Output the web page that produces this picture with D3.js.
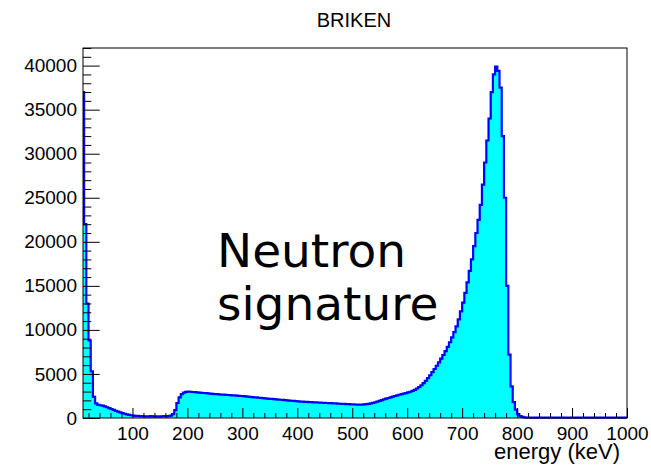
<!DOCTYPE html>
<html>
<head>
<meta charset="utf-8">
<script src="https://cdn.jsdelivr.net/npm/d3@7"></script>
<style>
  body { margin: 0; background: #fff; }
  text { font-family: "Liberation Sans", Arial, sans-serif; }
</style>
</head>
<body>
<script>
// histogram BRIKEN, 250 bins of 4 keV from 0 to 1000 keV, axis shown from 10 keV
var title = "BRIKEN"
var xTitle = "energy (keV)"
var histRange = [0, 1000]
var xRange = [10, 1000]
var yRange = [0, 42000]
var xTicks = [100, 200, 300, 400, 500, 600, 700, 800, 900, 1000]
var yTicks = [0, 5000, 10000, 15000, 20000, 25000, 30000, 35000, 40000]
var note = ["Neutron", "signature"]

var counts = [
  38000, 38000, 37000, 22000, 13000, 8800, 5300, 2400, 1650, 1500,
  1450, 1400, 1320, 1220, 1120, 1020, 930, 820, 720, 640,
  560, 480, 420, 360, 310, 280, 250, 230, 220, 210,
  190, 200, 180, 210, 170, 200, 190, 160, 200, 210,
  190, 220, 260, 450, 900, 1700, 2350, 2700, 2880, 2960,
  3000, 2980, 2950, 2930, 2900, 2880, 2860, 2840, 2820, 2790,
  2760, 2740, 2710, 2700, 2690, 2660, 2650, 2630, 2610, 2600,
  2570, 2560, 2540, 2520, 2500, 2480, 2450, 2430, 2400, 2380,
  2350, 2330, 2300, 2280, 2250, 2230, 2200, 2180, 2160, 2140,
  2110, 2090, 2070, 2050, 2020, 2000, 1980, 1960, 1940, 1910,
  1890, 1870, 1850, 1840, 1820, 1810, 1800, 1780, 1770, 1760,
  1740, 1730, 1720, 1700, 1690, 1680, 1670, 1650, 1640, 1620,
  1610, 1600, 1580, 1570, 1550, 1540, 1530, 1510, 1510, 1520,
  1540, 1570, 1610, 1660, 1720, 1790, 1870, 1950, 2030, 2110,
  2190, 2270, 2350, 2430, 2500, 2570, 2640, 2710, 2770, 2830,
  2900, 2980, 3080, 3200, 3350, 3520, 3720, 3950, 4220, 4520,
  4850, 5200, 5560, 5930, 6320, 6730, 7150, 7600, 8080, 8600,
  9150, 9750, 10400, 11200, 12100, 13100, 14200, 15400, 16700, 18000,
  19500, 21000, 22500, 24200, 26500, 29000, 31500, 34000, 37000, 39000,
  39900, 39400, 37500, 32000, 25000, 15000, 7200, 3600, 1800, 950,
  450, 220, 120, 70, 50, 45, 40, 42, 38, 40,
  44, 40, 36, 41, 39, 43, 40, 38, 42, 40,
  37, 41, 40, 39, 43, 38, 40, 42, 39, 41,
  40, 38, 42, 40, 39, 41, 40, 43, 38, 40,
  41, 39, 40, 42, 38, 40, 41, 39, 40, 42
]

var W = 651, H = 467
var margin = {top: 48, right: 24, bottom: 49, left: 83}

var svg = d3.select('body').append('svg')
    .attr('width', W)
    .attr('height', H)

var x = d3.scaleLinear().domain(xRange).range([margin.left, W - margin.right])
var y = d3.scaleLinear().domain(yRange).range([H - margin.bottom, margin.top])

svg.append('clipPath').attr('id', 'frame-clip')
  .append('rect')
  .attr('x', margin.left)
  .attr('y', margin.top)
  .attr('width', W - margin.left - margin.right + 1)
  .attr('height', H - margin.top - margin.bottom + 2)

var bw = (histRange[1] - histRange[0]) / counts.length
var pts = [{e: histRange[0], c: 0}]
counts.forEach(function (c, i) { pts.push({e: histRange[0] + i * bw, c: c}) })
pts.push({e: histRange[1], c: counts[counts.length - 1]})
pts.push({e: histRange[1], c: 0})

var area = d3.area()
  .curve(d3.curveStepAfter)
  .x(function (d) { return x(d.e) })
  .y0(y(0))
  .y1(function (d) { return y(d.c) })

var line = d3.line()
  .curve(d3.curveStepAfter)
  .x(function (d) { return x(d.e) })
  .y(function (d) { return y(d.c) })

var hist = svg.append('g').attr('clip-path', 'url(#frame-clip)')

hist.append('path')
  .datum(pts)
  .attr('d', area)
  .attr('fill', '#00ffff')

hist.append('path')
  .datum(pts)
  .attr('d', line)
  .attr('fill', 'none')
  .attr('stroke', '#0000ff')
  .attr('stroke-width', 2.2)

// axes, ticks inside the frame like ROOT does
var xMinor = d3.range(20, 1000, 20).filter(function (v) { return v % 100 !== 0 })
var yMinor = d3.range(1000, 42001, 1000).filter(function (v) { return v % 5000 !== 0 })

function styleAxis(g) {
  g.select('.domain').remove()
  g.selectAll('line').attr('stroke', '#000')
  g.selectAll('text').attr('fill', '#000').style('font-size', '19px')
    .style('font-family', '"Liberation Sans", Arial, sans-serif')
}

svg.append('g')
  .attr('transform', 'translate(0,' + (H - margin.bottom) + ')')
  .call(d3.axisBottom(x).tickValues(xMinor).tickSize(-5).tickFormat(''))
  .call(styleAxis)

svg.append('g')
  .attr('transform', 'translate(0,' + (H - margin.bottom) + ')')
  .call(d3.axisBottom(x).tickValues(xTicks).tickSize(-10).tickPadding(8.5).tickFormat(d3.format('d')))
  .call(styleAxis)

svg.append('g')
  .attr('transform', 'translate(' + margin.left + ',0)')
  .call(d3.axisLeft(y).tickValues(yMinor).tickSize(-8.3).tickFormat(''))
  .call(styleAxis)

svg.append('g')
  .attr('transform', 'translate(' + margin.left + ',0)')
  .call(d3.axisLeft(y).tickValues(yTicks).tickSize(-16.7).tickPadding(6).tickFormat(d3.format('d')))
  .call(styleAxis)

// frame
svg.append('rect')
  .attr('x', margin.left)
  .attr('y', margin.top)
  .attr('width', W - margin.left - margin.right)
  .attr('height', H - margin.top - margin.bottom)
  .attr('fill', 'none')
  .attr('stroke', '#000')
  .attr('stroke-width', 1)

svg.append('text')
  .attr('x', 354)
  .attr('y', 27)
  .attr('text-anchor', 'middle')
  .style('font-size', '20px')
  .text(title)

svg.append('text')
  .attr('x', 620)
  .attr('y', 459)
  .attr('text-anchor', 'end')
  .style('font-size', '22px')
  .text(xTitle)

svg.selectAll('.note')
  .data(note)
  .enter().append('text')
  .attr('class', 'note')
  .attr('x', 217)
  .attr('y', function (d, i) { return 267 + i * 53 })
  .style('font-family', '"DejaVu Sans", sans-serif')
  .style('font-size', '47px')
  .text(function (d) { return d })
</script>
</body>
</html>
